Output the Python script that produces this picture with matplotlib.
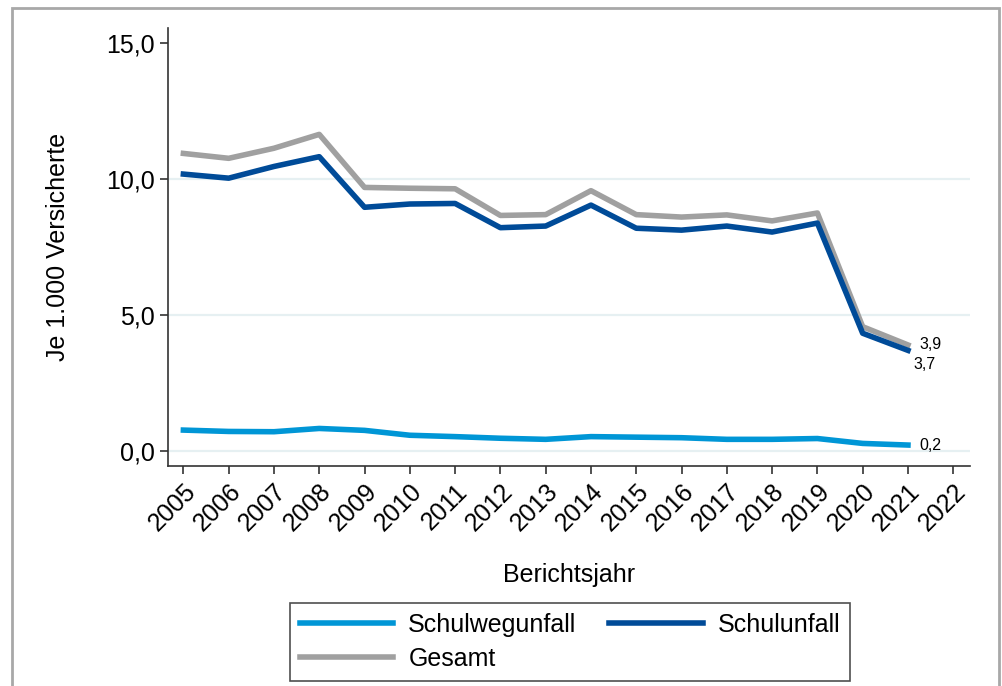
"""
Schulunfälle je 1.000 Versicherte
"""
import matplotlib
matplotlib.use("Agg")
import matplotlib.pyplot as plt
from matplotlib.patches import Rectangle

# DATA
years = list(range(2005, 2022))
xticks = list(range(2005, 2023))
schulweg = [0.77, 0.72, 0.71, 0.83, 0.76, 0.58, 0.53, 0.47, 0.43, 0.53, 0.51,
            0.49, 0.43, 0.43, 0.46, 0.28, 0.22]
schulunfall = [10.18, 10.03, 10.46, 10.82, 8.96, 9.08, 9.10, 8.21, 8.27, 9.04, 8.19,
               8.12, 8.27, 8.05, 8.38, 4.33, 3.70]
gesamt = [10.94, 10.76, 11.13, 11.64, 9.69, 9.66, 9.64, 8.66, 8.69, 9.57, 8.69,
          8.60, 8.68, 8.46, 8.75, 4.57, 3.90]
yticks = [0, 5, 10, 15]
end_labels = {"gesamt": "3,9", "schulunfall": "3,7", "schulweg": "0,2"}

C_WEG = "#0096d6"
C_SCHUL = "#004b98"
C_GES = "#a0a0a0"
FS = 18

plt.rcParams["font.family"] = ["Liberation Sans", "DejaVu Sans"]

W, H = 1003, 686
fig = plt.figure(figsize=(W / 100, H / 100), dpi=100)
# outer grey frame
fig.patches.append(Rectangle((12 / W, -0.05), (999 - 12) / W, 1.05 - 8 / H,
                             transform=fig.transFigure, fill=False,
                             edgecolor="#a8a8a8", linewidth=2))

ax = fig.add_axes([168 / W, 1 - 466 / H, (970 - 168) / W, (466 - 28) / H])

for y in [0, 5, 10]:
    ax.axhline(y, color="#e6f0f2", linewidth=1.6, zorder=0)

lw = 4.0
l1, = ax.plot(years, schulweg, color=C_WEG, lw=lw, label="Schulwegunfall")
l3, = ax.plot(years, gesamt, color=C_GES, lw=lw, label="Gesamt")
l2, = ax.plot(years, schulunfall, color=C_SCHUL, lw=lw, label="Schulunfall")

ax.annotate(end_labels["gesamt"], (years[-1], gesamt[-1]), xytext=(8, 0),
            textcoords="offset points", va="center", ha="left", fontsize=11.5)
ax.annotate(end_labels["schulunfall"], (years[-1], schulunfall[-1]), xytext=(4, -10),
            textcoords="offset points", va="center", ha="left", fontsize=11.5)
ax.annotate(end_labels["schulweg"], (years[-1], schulweg[-1]), xytext=(8, 0),
            textcoords="offset points", va="center", ha="left", fontsize=11.5)

ax.set_xlim(2004.66, 2022.37)
ax.set_ylim(-0.55, 15.55)
ax.set_yticks(yticks)
ax.set_yticklabels([f"{v:.1f}".replace(".", ",") for v in yticks], fontsize=FS)
ax.set_xticks(xticks)
ax.set_xticklabels([str(x) for x in xticks], rotation=45, ha="right",
                   rotation_mode="anchor", fontsize=FS)

for side in ["top", "right"]:
    ax.spines[side].set_visible(False)
for side in ["left", "bottom"]:
    ax.spines[side].set_color("#333333")
    ax.spines[side].set_linewidth(1.2)
ax.tick_params(direction="out", length=6, width=1.2, color="#333333", pad=3.5)

ax.set_ylabel("Je 1.000 Versicherte", fontsize=FS, labelpad=26)
ax.set_xlabel("Berichtsjahr", fontsize=FS, labelpad=20)

leg = fig.legend([l1, l3, l2], ["Schulwegunfall", "Gesamt", "Schulunfall"],
                 ncol=2, loc="center", bbox_to_anchor=(570 / W, 1 - 642 / H),
                 fontsize=FS, handlelength=3.75, handletextpad=0.6,
                 columnspacing=1.3, labelspacing=0.4, borderpad=0.4,
                 fancybox=False, frameon=True)
leg.get_frame().set_edgecolor("#222222")
leg.get_frame().set_linewidth(1.2)

fig.savefig("out.png", dpi=100)
